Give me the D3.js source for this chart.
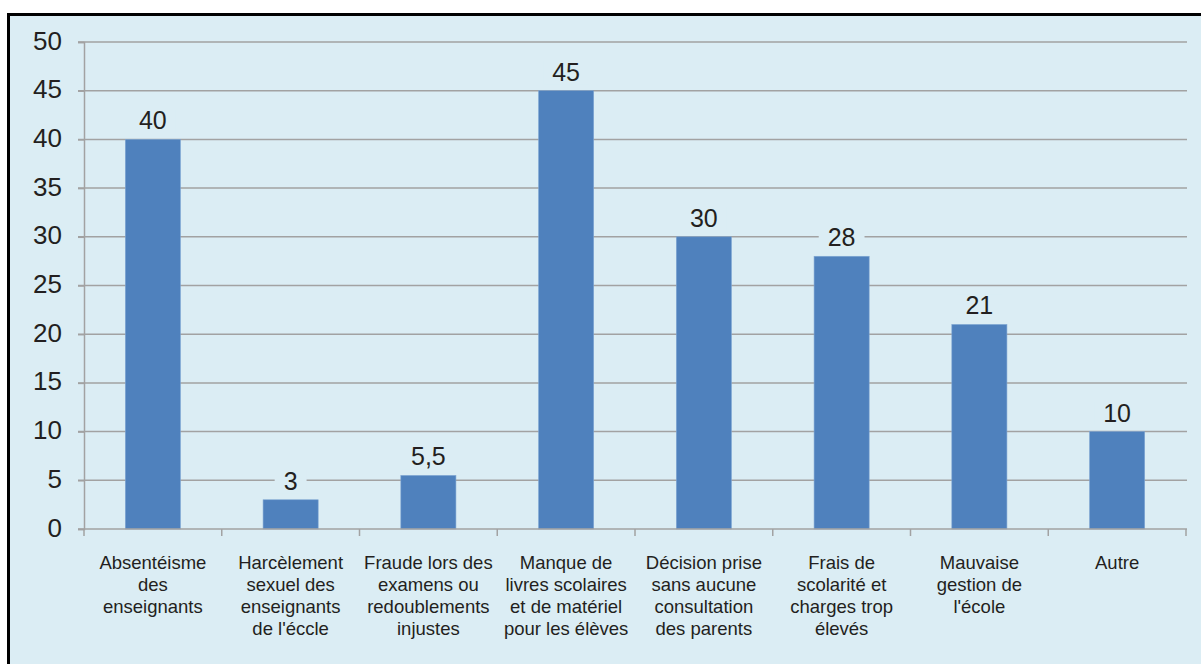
<!DOCTYPE html>
<html>
<head>
<meta charset="utf-8">
<script src="https://cdn.jsdelivr.net/npm/d3@7"></script>
<style>
  html, body { margin: 0; padding: 0; background: #ffffff; }
  svg { display: block; }
  text { font-family: "Liberation Sans", Arial, sans-serif; fill: #231f20; }
</style>
</head>
<body>
<svg id="chart" width="1201" height="664"></svg>
<script>
// Category labels, already broken into lines
const categories = [
  ["Absentéisme", "des", "enseignants"],
  ["Harcèlement", "sexuel des", "enseignants", "de l'éccle"],
  ["Fraude lors des", "examens ou", "redoublements", "injustes"],
  ["Manque de", "livres scolaires", "et de matériel", "pour les élèves"],
  ["Décision prise", "sans aucune", "consultation", "des parents"],
  ["Frais de", "scolarité et", "charges trop", "élevés"],
  ["Mauvaise", "gestion de", "l'école"],
  ["Autre"]
];
const values = [40, 3, 5.5, 45, 30, 28, 21, 10];
const yTicks = [0, 5, 10, 15, 20, 25, 30, 35, 40, 45, 50];

const svg = d3.select("#chart");
const W = 1201, H = 664;
const bg = "#dbedf4";
const barColor = "#4f81bd";
const gridColor = "#a2a2a2";

// Frame
svg.append("rect")
  .attr("x", 8.5).attr("y", 14.5)
  .attr("width", W + 10).attr("height", H + 10)
  .attr("fill", bg)
  .attr("stroke", "#000").attr("stroke-width", 3);

const plot = { left: 84, right: 1186, top: 42, bottom: 529 };

const x = d3.scaleBand()
  .domain(d3.range(categories.length))
  .range([plot.left, plot.right])
  .paddingInner(0.6).paddingOuter(0.3);
const xBand = d3.scaleBand()
  .domain(d3.range(categories.length))
  .range([plot.left, plot.right]);
const y = d3.scaleLinear().domain([0, 50]).range([plot.bottom, plot.top]);

// Horizontal gridlines with left tick marks
const g = svg.append("g");
g.selectAll("line.grid")
  .data(yTicks.filter(d => d > 0))
  .join("line")
  .attr("x1", plot.left - 6).attr("x2", plot.right + 1)
  .attr("y1", d => y(d)).attr("y2", d => y(d))
  .attr("stroke", gridColor).attr("stroke-width", 1.5);

// Y axis labels
const yAxis = d3.axisLeft(y).tickValues(yTicks).tickSize(6).tickPadding(16)
  .tickFormat(d3.format("d"));
const ya = svg.append("g").attr("transform", `translate(${plot.left},0)`).call(yAxis);
ya.select(".domain").attr("stroke", gridColor).attr("stroke-width", 1.5);
ya.selectAll(".tick line").attr("stroke", gridColor).attr("stroke-width", 1.5);
ya.selectAll(".tick text")
  .attr("font-size", 26).attr("fill", "#231f20")
  .attr("font-family", "Liberation Sans, Arial, sans-serif")
  .attr("dy", "0.27em");

// Bars
svg.append("g").selectAll("rect")
  .data(values)
  .join("rect")
  .attr("x", (d, i) => x(i))
  .attr("width", x.bandwidth())
  .attr("y", d => y(d))
  .attr("height", d => y(0) - y(d))
  .attr("fill", barColor)
  .attr("stroke", "#7fa6d2").attr("stroke-width", 0.6);

// X axis line and category boundary ticks
const xa = svg.append("g");
xa.append("line")
  .attr("x1", plot.left - 6).attr("x2", plot.right + 1)
  .attr("y1", y(0)).attr("y2", y(0))
  .attr("stroke", gridColor).attr("stroke-width", 1.5);
const bounds = d3.range(categories.length + 1).map(i =>
  i < categories.length ? xBand(i) : xBand(i - 1) + xBand.bandwidth());
xa.selectAll("line.tk")
  .data(bounds)
  .join("line")
  .attr("x1", d => d).attr("x2", d => d)
  .attr("y1", y(0)).attr("y2", y(0) + 7)
  .attr("stroke", gridColor).attr("stroke-width", 1.5);

// Category labels
const lab = svg.append("g");
categories.forEach((lines, i) => {
  const cx = xBand(i) + xBand.bandwidth() / 2;
  const t = lab.append("text")
    .attr("text-anchor", "middle")
    .attr("font-size", 18.5);
  lines.forEach((ln, k) => {
    t.append("tspan").attr("x", cx).attr("y", y(0) + 40 + k * 22).text(ln);
  });
});

// Value labels on a background-coloured box
const fmt = v => String(v).replace(".", ",");
const vl = svg.append("g");
values.forEach((v, i) => {
  const cx = x(i) + x.bandwidth() / 2;
  const by = y(v) - 10;
  const t = vl.append("text")
    .attr("x", cx).attr("y", by)
    .attr("text-anchor", "middle")
    .attr("font-size", 25)
    .text(fmt(v));
  const bb = t.node().getBBox();
  vl.insert("rect", "text")
    .attr("x", bb.x - 9).attr("y", bb.y + 3)
    .attr("width", bb.width + 18).attr("height", bb.height - 4)
    .attr("fill", bg);
});
</script>
</body>
</html>
